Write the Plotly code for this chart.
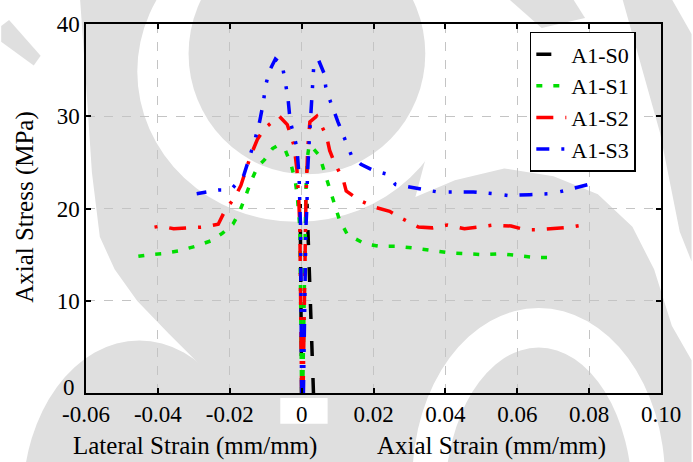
import plotly.graph_objects as go

# ---------------- data ----------------
x_ticks = [-0.06, -0.04, -0.02, 0.0, 0.02, 0.04, 0.06, 0.08, 0.10]
x_tick_labels = ["-0.06", "-0.04", "-0.02", "0", "0.02", "0.04", "0.06", "0.08", "0.10"]
y_ticks = [0, 10, 20, 30, 40]
y_tick_labels = ["0", "10", "20", "30", "40"]

series_names = ["A1-S0", "A1-S1", "A1-S2", "A1-S3"]

s0_lat_x = [0.0, -0.0001, -0.0002, -0.0004]
s0_lat_y = [0.0, 8.0, 16.0, 20.5]
s0_ax_x = [0.0033, 0.0029, 0.0026, 0.0023, 0.0019, 0.0015]
s0_ax_y = [0.0, 4.4, 8.4, 12.5, 16.6, 20.5]

s1_lat_x = [0.0, -0.0002, -0.0005, -0.0012, -0.0018, -0.0029, -0.0046, -0.0068, -0.0081,
            -0.0103, -0.0123, -0.0139, -0.0156, -0.0172, -0.0191, -0.0221, -0.0252,
            -0.0296, -0.0342, -0.0389, -0.0422, -0.0460]
s1_lat_y = [0.0, 10.0, 18.0, 21.3, 23.1, 24.7, 26.4, 26.8, 26.5, 25.3, 24.5, 23.1, 21.4,
            19.7, 18.3, 17.3, 16.5, 15.9, 15.4, 15.1, 15.0, 14.8]
s1_ax_x = [0.0003, 0.0006, 0.0009, 0.0012, 0.0016, 0.0021, 0.0030, 0.0050, 0.0064, 0.0078,
           0.0091, 0.0105, 0.0127, 0.0174, 0.0217, 0.0267, 0.0314, 0.0363, 0.0410, 0.0459,
           0.0503, 0.0552, 0.0599, 0.0648, 0.0695]
s1_ax_y = [0.0, 10.0, 18.0, 22.0, 25.5, 26.9, 26.6, 25.7, 23.9, 22.2, 20.5, 18.8, 17.2,
           16.2, 15.9, 15.9, 15.7, 15.4, 15.2, 15.1, 15.0, 15.1, 14.9, 14.7, 14.7]

s2_lat_x = [0.0, -0.0002, -0.0005, -0.0008, -0.0013, -0.0021, -0.0040, -0.0062, -0.0103,
            -0.0123, -0.0141, -0.0155, -0.0169, -0.0186, -0.0213, -0.0232, -0.0268,
            -0.0315, -0.0356, -0.0392, -0.0435]
s2_lat_y = [0.0, 10.0, 18.0, 21.0, 24.2, 26.8, 29.1, 30.0, 28.7, 27.5, 25.8, 24.2, 22.5,
            21.2, 19.8, 18.3, 18.0, 17.9, 17.8, 18.1, 17.8]
s2_ax_x = [0.0004, 0.0008, 0.0010, 0.0012, 0.0017, 0.0023, 0.0042, 0.0069, 0.0078, 0.0091,
           0.0116, 0.0124, 0.0160, 0.0207, 0.0245, 0.0275, 0.0325, 0.0364, 0.0405, 0.0453,
           0.0492, 0.0533, 0.0583, 0.0621, 0.0662, 0.0714, 0.0752, 0.0799]
s2_ax_y = [0.0, 10.0, 18.0, 21.0, 26.5, 29.4, 30.0, 27.9, 26.3, 25.0, 23.1, 21.9, 20.9,
           20.1, 19.7, 19.0, 18.0, 17.9, 18.2, 17.8, 18.0, 18.2, 18.1, 17.7, 17.7, 17.9,
           18.0, 18.3]

s3_lat_x = [0.0, -0.0001, -0.0003, -0.0005, -0.0007, -0.0013, -0.0032, -0.0038, -0.0046,
            -0.0054, -0.0073, -0.0090, -0.0101, -0.0106, -0.0117, -0.0131, -0.0161,
            -0.0197, -0.0232, -0.0292]
s3_lat_y = [0.0, 10.0, 18.0, 20.5, 23.4, 26.6, 29.5, 32.0, 34.1, 35.6, 36.2, 34.9, 33.2,
            31.6, 29.4, 27.3, 23.6, 22.0, 22.0, 21.6]
s3_ax_x = [0.0005, 0.0008, 0.0012, 0.0015, 0.0016, 0.0020, 0.0027, 0.0029, 0.0030, 0.0034,
           0.0047, 0.0063, 0.0067, 0.0080, 0.0101, 0.0122, 0.0138, 0.0165, 0.0201, 0.0240,
           0.0261, 0.0320, 0.0377, 0.0420, 0.0478, 0.0536, 0.0577, 0.0635, 0.0692, 0.0728,
           0.0797]
s3_ax_y = [0.0, 10.0, 18.0, 20.5, 23.5, 26.5, 31.5, 33.0, 34.1, 35.6, 36.1, 34.6, 33.2,
           31.6, 29.4, 27.3, 25.8, 24.8, 24.1, 23.7, 22.6, 22.2, 21.8, 21.8, 21.8, 21.6,
           21.4, 21.5, 21.6, 21.9, 22.6]

# ---------------- styles ----------------
colors = ["#000000", "#00dd00", "#ff0000", "#0000ff"]
dashes = ["15px,22px", "6px,11px", "17px,12px,3px,12px", "13px,12px,3px,13px,3px,12px"]
widths = [3.5, 3.5, 3.5, 3.5]

W, H = 693, 462
ML, MR, MT, MB = 86, 24, 20, 69
PW, PH = W - ML - MR, H - MT - MB


def px2x(px):
    return (px - ML) / PW


def py2y(py):
    return (H - MB - py) / PH


GRAY = "#dfdfdf"


def ell(cx, cy, rx, ry, color):
    return dict(type="circle", xref="paper", yref="paper",
                x0=px2x(cx - rx), x1=px2x(cx + rx),
                y0=py2y(cy + ry), y1=py2y(cy - ry),
                fillcolor=color, line_width=0, layer="below")


def poly(points, color):
    d = "M " + " L ".join(f"{px2x(a):.5f},{py2y(b):.5f}" for a, b in points) + " Z"
    return dict(type="path", xref="paper", yref="paper", path=d,
                fillcolor=color, line_width=0, layer="below")


def rect(x0, y0, x1, y1, color):
    return dict(type="rect", xref="paper", yref="paper",
                x0=px2x(x0), x1=px2x(x1), y0=py2y(y1), y1=py2y(y0),
                fillcolor=color, line_width=0, layer="below")


# background watermark (decoration only)
wm_main = [(80, -5), (440, -5), (440, 120), (420, 195), (460, 178), (510, 166), (560, 174),
           (605, 192), (640, 225), (662, 268), (680, 325), (700, 360), (700, 467), (240, 467),
           (232, 420), (222, 392), (200, 363), (170, 333), (138, 300), (115, 268), (100, 235),
           (92, 170), (86, 80)]
wm_corner = [(0, 22), (8, 16), (40, 52), (33, 62), (0, 38)]
wm_right = [(630, -5), (680, -5), (700, 30), (700, 260), (688, 230), (668, 130)]
wm_top = [(515, -5), (580, -5), (592, 14), (548, 24)]

shapes = [
    poly(wm_main, GRAY),
    poly(wm_corner, GRAY),
    poly(wm_right, GRAY),
    poly(wm_top, GRAY),
    ell(300, 68, 162, 152, "white"),
    ell(310, 50, 120, 122, GRAY),
    ell(140, 500, 118, 160, GRAY),
    ell(545, 480, 128, 173, "white"),
    ell(545, 500, 95, 153, GRAY),
    rect(283, 398, 331, 424, "white"),
]

fig = go.Figure()

branches = [
    (s0_lat_x, s0_lat_y, s0_ax_x, s0_ax_y),
    (s1_lat_x, s1_lat_y, s1_ax_x, s1_ax_y),
    (s2_lat_x, s2_lat_y, s2_ax_x, s2_ax_y),
    (s3_lat_x, s3_lat_y, s3_ax_x, s3_ax_y),
]

for i, (lx, ly, ax, ay) in enumerate(branches):
    line = dict(color=colors[i], width=widths[i], dash=dashes[i])
    fig.add_trace(go.Scatter(x=lx, y=ly, mode="lines", line=line, name=series_names[i],
                             showlegend=True))
    fig.add_trace(go.Scatter(x=ax, y=ay, mode="lines", line=line, name=series_names[i],
                             showlegend=False))

FONT = "Times New Roman"

axis_common = dict(showline=True, linecolor="black", linewidth=1.5, mirror="ticks",
                   ticks="inside", ticklen=5, tickwidth=1.5, tickcolor="black",
                   showgrid=True, gridcolor="#c4c4c4", gridwidth=1, griddash="dash",
                   zeroline=False, tickfont=dict(family=FONT, size=23, color="black"))

# the lowest y label sits slightly raised in the reference (clear of "-0.06"),
# so it is drawn as a text annotation instead of an axis tick label
y_axis_text = [""] + y_tick_labels[1:]

fig.update_layout(
    width=W, height=H,
    margin=dict(l=ML, r=MR, t=MT, b=MB, pad=0),
    paper_bgcolor="white", plot_bgcolor="rgba(0,0,0,0)",
    font=dict(family=FONT, size=23, color="black"),
    xaxis=dict(range=[-0.06, 0.10], tickvals=x_ticks, ticktext=x_tick_labels,
               ticklabeloverflow="allow", **axis_common),
    yaxis=dict(range=[0, 40], tickvals=y_ticks, ticktext=y_axis_text, **axis_common),
    shapes=shapes,
    legend=dict(x=px2x(536), y=py2y(28), xanchor="left", yanchor="top",
                bgcolor="white", bordercolor="black", borderwidth=1.5,
                font=dict(family=FONT, size=22, color="black"), tracegroupgap=0),
    annotations=[
        dict(text=y_tick_labels[0], xref="paper", yref="paper",
             x=px2x(77), y=py2y(387), xanchor="right", yanchor="middle",
             showarrow=False, font=dict(family=FONT, size=23, color="black")),
        dict(text="Lateral Strain (mm/mm)", xref="paper", yref="paper",
             x=px2x(197), y=py2y(447), xanchor="center", yanchor="middle",
             showarrow=False, font=dict(family=FONT, size=25, color="black")),
        dict(text="Axial Strain (mm/mm)", xref="paper", yref="paper",
             x=px2x(497), y=py2y(447), xanchor="center", yanchor="middle",
             showarrow=False, font=dict(family=FONT, size=25, color="black")),
        dict(text="Axial Stress (MPa)", xref="paper", yref="paper", textangle=-90,
             x=px2x(24), y=py2y(205), xanchor="center", yanchor="middle",
             showarrow=False, font=dict(family=FONT, size=25, color="black")),
    ],
)

fig.write_html("out.html")
